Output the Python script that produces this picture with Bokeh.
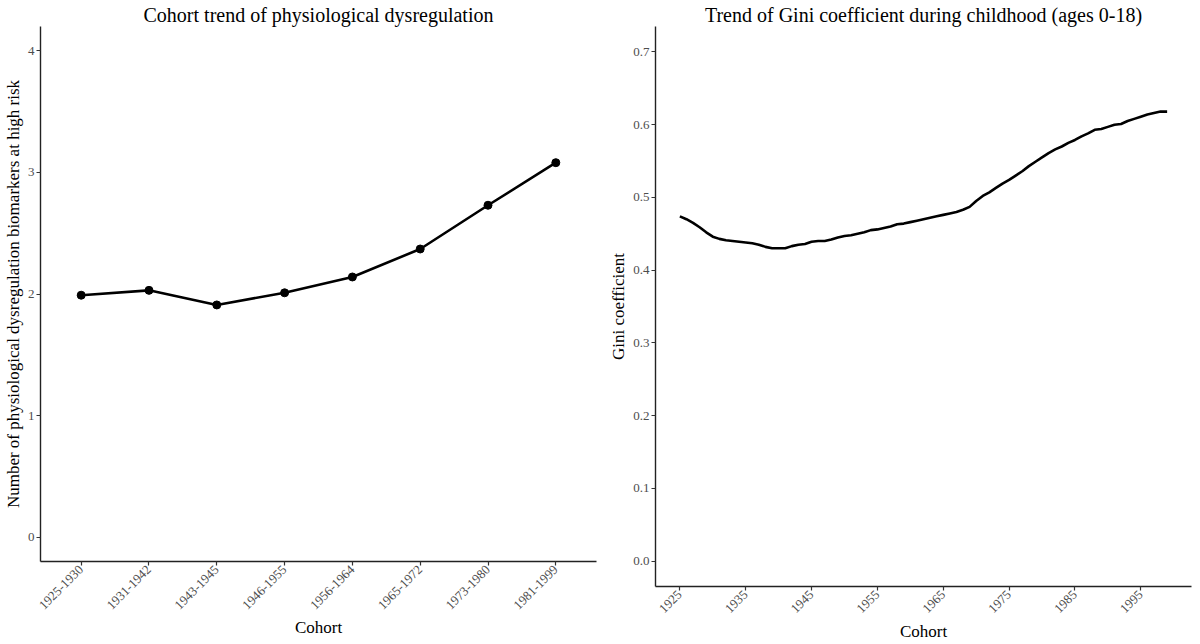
import math
from bokeh.plotting import figure
from bokeh.layouts import row
from bokeh.models import FactorRange, Range1d, FixedTicker, PrintfTickFormatter
from bokeh.embed import file_html
from bokeh.resources import INLINE

# ---- data ----
cohorts = ["1925-1930", "1931-1942", "1943-1945", "1946-1955",
           "1956-1964", "1965-1972", "1973-1980", "1981-1999"]
dysreg = [1.99, 2.03, 1.91, 2.01, 2.14, 2.37, 2.73, 3.08]

gini_years = list(range(1925, 2000))
gini = [0.474, 0.470, 0.465, 0.459, 0.452, 0.446, 0.443, 0.441, 0.440, 0.439,
        0.438, 0.437, 0.435, 0.432, 0.430, 0.430, 0.430, 0.433, 0.435, 0.436,
        0.439, 0.440, 0.440, 0.442, 0.445, 0.447, 0.448, 0.450, 0.452, 0.455,
        0.456, 0.458, 0.460, 0.463, 0.464, 0.466, 0.468, 0.470, 0.472, 0.474,
        0.476, 0.478, 0.480, 0.483, 0.487, 0.495, 0.502, 0.507, 0.513, 0.519,
        0.524, 0.530, 0.536, 0.543, 0.549, 0.555, 0.561, 0.566, 0.570, 0.575,
        0.579, 0.584, 0.588, 0.593, 0.594, 0.597, 0.600, 0.601, 0.605, 0.608,
        0.611, 0.614, 0.616, 0.618, 0.618]

left_yticks = [0, 1, 2, 3, 4]
right_yticks = [0.0, 0.1, 0.2, 0.3, 0.4, 0.5, 0.6, 0.7]
right_xticks = [1925, 1935, 1945, 1955, 1965, 1975, 1985, 1995]

FONT = "Liberation Serif"


def style(p):
    p.title.text_font = FONT
    p.title.text_font_size = "20px"
    p.title.text_font_style = "normal"
    p.title.align = "center"
    p.title.text_color = "#000000"
    p.title.standoff = 2
    p.xgrid.visible = False
    p.ygrid.visible = False
    p.outline_line_color = None
    for ax in (p.xaxis[0], p.yaxis[0]):
        ax.axis_line_color = "#222222"
        ax.axis_line_width = 1.4
        ax.major_tick_line_color = "#333333"
        ax.major_tick_line_width = 1.2
        ax.major_tick_in = 0
        ax.major_tick_out = 4
        ax.minor_tick_line_color = None
        ax.major_label_text_font = FONT
        ax.major_label_text_font_size = "13px"
        ax.major_label_text_color = "#4d4d4d"
        ax.axis_label_text_font = FONT
        ax.axis_label_text_font_size = "17px"
        ax.axis_label_text_font_style = "normal"
        ax.axis_label_text_color = "#000000"
        ax.major_label_standoff = 2
        ax.axis_label_standoff = 2
    p.xaxis[0].major_label_orientation = math.pi / 4


# ---- left panel ----
p1 = figure(frame_width=556, frame_height=535, output_backend="svg", toolbar_location=None,
            x_range=FactorRange(*cohorts, range_padding=0.1, range_padding_units="absolute"),
            y_range=Range1d(-0.2, 4.2),
            title="Cohort trend of physiological dysregulation",
            min_border_left=0, min_border_right=10, min_border_top=0, min_border_bottom=0)
p1.line(cohorts, dysreg, line_color="black", line_width=2.6)
p1.scatter(cohorts, dysreg, size=8, color="black")
p1.yaxis[0].ticker = FixedTicker(ticks=left_yticks)
p1.xaxis[0].axis_label = "Cohort"
p1.yaxis[0].axis_label = "Number of physiological dysregulation biomarkers at high risk"
style(p1)

# ---- right panel ----
p2 = figure(frame_width=536, frame_height=560, output_backend="svg", toolbar_location=None,
            x_range=Range1d(1921.3, 2002.7), y_range=Range1d(-0.035, 0.735),
            title="Trend of Gini coefficient during childhood (ages 0-18)",
            min_border_left=0, min_border_right=4, min_border_top=0, min_border_bottom=0)
p2.line(gini_years, gini, line_color="black", line_width=2.6)
p2.yaxis[0].ticker = FixedTicker(ticks=right_yticks)
p2.yaxis[0].formatter = PrintfTickFormatter(format="%.1f")
p2.xaxis[0].ticker = FixedTicker(ticks=right_xticks)
p2.xaxis[0].axis_label = "Cohort"
p2.yaxis[0].axis_label = "Gini coefficient"
style(p2)

layout = row(p1, p2)
open("out.html", "w").write(file_html(layout, INLINE))
